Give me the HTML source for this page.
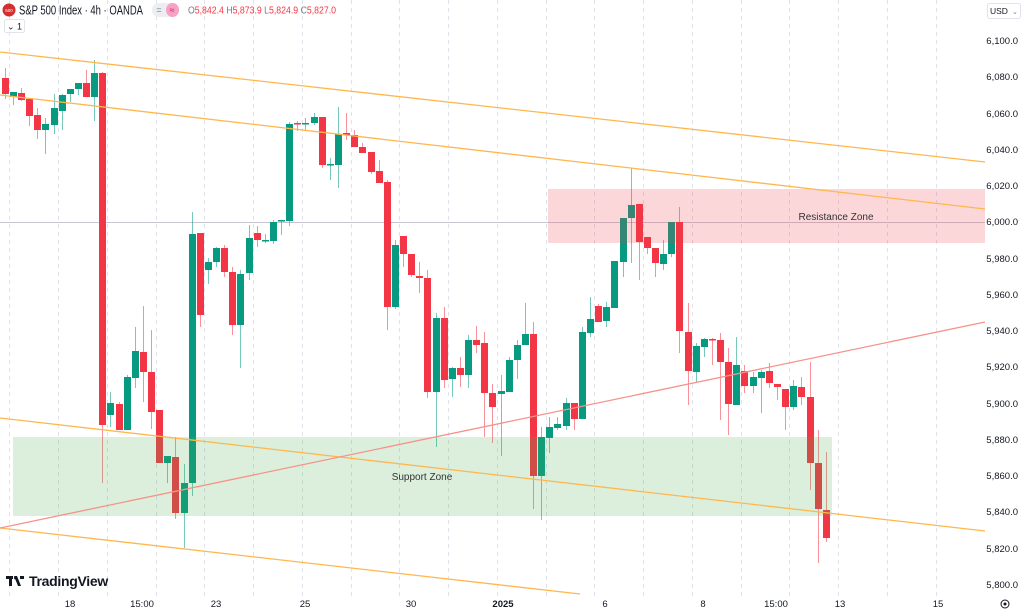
<!DOCTYPE html>
<html><head><meta charset="utf-8"><style>
html,body{margin:0;padding:0;background:#fff;width:1024px;height:612px;overflow:hidden;font-family:"Liberation Sans",sans-serif}
</style></head><body>
<svg width="1024" height="612" viewBox="0 0 1024 612" xmlns="http://www.w3.org/2000/svg" font-family="Liberation Sans, sans-serif">
<rect width="1024" height="612" fill="#fff"/>
<!-- grid -->
<g stroke="#e0e3eb" stroke-width="1" stroke-dasharray="4,4">
<path d="M9.5 0V596M58.5 0V596M107.5 0V596M156.5 0V596M204.5 0V596M253.5 0V596M302.5 0V596M351.5 0V596M399.5 0V596M448.5 0V596M497.5 0V596M546.5 0V596M594.5 0V596M643.5 0V596M692.5 0V596M741.5 0V596M789.5 0V596M838.5 0V596M887.5 0V596M936.5 0V596"/>
</g>
<line x1="0" y1="222.5" x2="985" y2="222.5" stroke="#c8c6d4" stroke-width="1"/>
<!-- wicks -->
<g stroke="#f23645" stroke-opacity="0.55" stroke-width="1" fill="none">
<path d="M5.5 68V99M21.5 88V101M29.5 99V126M37.5 108V139M86.5 70V97M102.5 72V483M119.5 402V430M143.5 306V402M151.5 330V429M159.5 410V463M175.5 437V519M200.5 233V327M224.5 245V277M232.5 267V335M257.5 226V247M297.5 121V131M322.5 117V168M346.5 113V140M354.5 130V147M362.5 143V153M371.5 152V174M379.5 160V183M387.5 180V330M403.5 236V267M411.5 254V277M419.5 262V293M427.5 270V398M444.5 307V388M460.5 357V387M476.5 326V353M484.5 332V437M492.5 384V443M533.5 322V509M574.5 403V430M598.5 304V322M639.5 204V280M647.5 237V254M655.5 248V277M679.5 207V353M688.5 303V405M712.5 338V365M720.5 333V420M728.5 348V435M744.5 365V393M769.5 363V388M777.5 384V400M785.5 389V430M801.5 377V405M810.5 362V490M818.5 430V563M826.5 452V542"/>
</g>
<g stroke="#089981" stroke-opacity="0.55" stroke-width="1" fill="none">
<path d="M13.5 92V105M45.5 118V154M54.5 94V134M62.5 94V130M70.5 89V102M78.5 83V95M94.5 60V121M110.5 392V427M127.5 375V430M135.5 327V388M167.5 456V483M184.5 464V548M192.5 212V496M208.5 258V284M216.5 247V267M240.5 270V368M249.5 225V280M265.5 234V243M273.5 220V244M281.5 220V235M289.5 122V226M305.5 118V131M314.5 113V125M330.5 158V180M338.5 107V188M395.5 240V309M436.5 313V447M452.5 367V397M468.5 335V388M501.5 375V456M509.5 357V392M517.5 340V379M525.5 303V345M541.5 427V520M549.5 417V453M557.5 417V430M566.5 398V430M582.5 327V419M590.5 297V337M606.5 302V327M614.5 261V308M623.5 218V277M631.5 168V263M663.5 240V270M671.5 222V257M696.5 343V382M704.5 338V357M736.5 337V405M753.5 372V393M761.5 370V413M793.5 380V410"/>
</g>
<!-- bodies -->
<g fill="#f23645">
<rect x="2" y="78" width="7" height="16"/><rect x="18" y="93" width="7" height="7"/><rect x="26" y="99" width="7" height="17"/><rect x="34" y="115" width="7" height="15"/><rect x="83" y="83" width="7" height="14"/><rect x="99" y="73" width="7" height="352"/><rect x="116" y="404" width="7" height="26"/><rect x="140" y="352" width="7" height="20"/><rect x="148" y="372" width="7" height="40"/><rect x="156" y="410" width="7" height="53"/><rect x="172" y="457" width="7" height="56"/><rect x="197" y="233" width="7" height="82"/><rect x="221" y="248" width="7" height="24"/><rect x="229" y="272" width="7" height="53"/><rect x="254" y="233" width="7" height="7"/><rect x="294" y="123" width="7" height="1.5"/><rect x="319" y="117" width="7" height="48"/><rect x="343" y="133" width="7" height="2"/><rect x="351" y="135" width="7" height="12"/><rect x="359" y="147" width="7" height="6"/><rect x="368" y="152" width="7" height="20"/><rect x="376" y="171" width="7" height="12"/><rect x="384" y="182" width="7" height="125"/><rect x="400" y="236" width="7" height="18"/><rect x="408" y="254" width="7" height="21"/><rect x="416" y="276" width="7" height="2"/><rect x="424" y="278" width="7" height="114"/><rect x="441" y="318" width="7" height="62"/><rect x="457" y="368" width="7" height="7"/><rect x="473" y="340" width="7" height="5"/><rect x="481" y="343" width="7" height="50"/><rect x="489" y="393" width="7" height="14"/><rect x="530" y="334" width="7" height="142"/><rect x="571" y="403" width="7" height="16"/><rect x="595" y="306" width="7" height="16"/><rect x="636" y="204" width="7" height="38"/><rect x="644" y="237" width="7" height="11"/><rect x="652" y="248" width="7" height="15"/><rect x="676" y="222" width="7" height="109"/><rect x="685" y="332" width="7" height="39"/><rect x="709" y="339" width="7" height="1.5"/><rect x="717" y="340" width="7" height="22"/><rect x="725" y="362" width="7" height="42"/><rect x="741" y="371" width="7" height="15"/><rect x="766" y="371" width="7" height="12"/><rect x="774" y="384" width="7" height="3"/><rect x="782" y="389" width="7" height="18"/><rect x="798" y="387" width="7" height="10"/><rect x="807" y="397" width="7" height="66"/><rect x="815" y="463" width="7" height="46"/><rect x="823" y="510" width="7" height="28"/>
</g>
<g fill="#089981">
<rect x="10" y="92" width="7" height="5"/><rect x="42" y="124" width="7" height="6"/><rect x="51" y="108" width="7" height="17"/><rect x="59" y="95" width="7" height="16"/><rect x="67" y="89" width="7" height="5"/><rect x="75" y="83" width="7" height="6"/><rect x="91" y="73" width="7" height="24"/><rect x="107" y="403" width="7" height="12"/><rect x="124" y="377" width="7" height="53"/><rect x="132" y="351" width="7" height="27"/><rect x="164" y="456" width="7" height="7"/><rect x="181" y="483" width="7" height="30"/><rect x="189" y="234" width="7" height="249"/><rect x="205" y="262" width="7" height="8"/><rect x="213" y="248" width="7" height="14"/><rect x="237" y="274" width="7" height="51"/><rect x="246" y="238" width="7" height="35"/><rect x="262" y="240" width="7" height="1.5"/><rect x="270" y="222" width="7" height="19"/><rect x="278" y="220" width="7" height="1.5"/><rect x="286" y="124" width="7" height="97"/><rect x="302" y="123" width="7" height="1.5"/><rect x="311" y="117" width="7" height="6"/><rect x="327" y="164" width="7" height="1.5"/><rect x="335" y="134" width="7" height="31"/><rect x="392" y="245" width="7" height="62"/><rect x="433" y="318" width="7" height="74"/><rect x="449" y="368" width="7" height="11"/><rect x="465" y="340" width="7" height="35"/><rect x="498" y="391" width="7" height="3"/><rect x="506" y="360" width="7" height="32"/><rect x="514" y="345" width="7" height="15"/><rect x="522" y="334" width="7" height="11"/><rect x="538" y="437" width="7" height="39"/><rect x="546" y="427" width="7" height="11"/><rect x="554" y="424" width="7" height="4"/><rect x="563" y="403" width="7" height="23"/><rect x="579" y="332" width="7" height="87"/><rect x="587" y="319" width="7" height="14"/><rect x="603" y="307" width="7" height="14"/><rect x="611" y="261" width="7" height="47"/><rect x="620" y="218" width="7" height="44"/><rect x="628" y="205" width="7" height="13"/><rect x="660" y="254" width="7" height="10"/><rect x="668" y="222" width="7" height="32"/><rect x="693" y="346" width="7" height="26"/><rect x="701" y="339" width="7" height="8"/><rect x="733" y="365" width="7" height="40"/><rect x="750" y="377" width="7" height="9"/><rect x="758" y="372" width="7" height="6"/><rect x="790" y="386" width="7" height="21"/>
</g>
<!-- zones -->
<rect x="13" y="437" width="819" height="79" fill="rgba(76,175,80,0.2)"/>
<rect x="548" y="189" width="437" height="54" fill="rgba(242,54,69,0.2)"/>
<text x="422" y="480" font-size="10" fill="#333" text-anchor="middle">Support Zone</text>
<text x="836" y="220" font-size="10" fill="#333" text-anchor="middle">Resistance Zone</text>
<!-- lines -->
<g stroke="#ffb74d" stroke-width="1.3" fill="none">
<line x1="0" y1="52" x2="985" y2="162"/>
<line x1="0" y1="95" x2="985" y2="209"/>
<line x1="0" y1="418" x2="985" y2="531"/>
<line x1="0" y1="528" x2="580" y2="594"/>
</g>
<line x1="0" y1="528" x2="985" y2="322" stroke="#f7928a" stroke-width="1.3"/>
<!-- header -->
<circle cx="9" cy="10" r="6.5" fill="#d32f2f"/>
<text x="9" y="12" font-size="4.5" fill="#fff" text-anchor="middle">500</text>
<text x="19" y="14.5" font-size="12.5" fill="#131722" textLength="124" lengthAdjust="spacingAndGlyphs">S&amp;P 500 Index · 4h · OANDA</text>
<rect x="152" y="3" width="27" height="14" rx="7" fill="#eceef2"/>
<rect x="166" y="3" width="13" height="14" rx="7" fill="#f7a1c4"/>
<text x="159" y="13" font-size="9" fill="#787b86" text-anchor="middle">=</text>
<text x="172" y="13" font-size="9" fill="#d81b60" text-anchor="middle">≈</text>
<text x="188" y="13.5" font-size="10" textLength="148" lengthAdjust="spacingAndGlyphs"><tspan fill="#787b86">O</tspan><tspan fill="#f23645">5,842.4 </tspan><tspan fill="#787b86">H</tspan><tspan fill="#f23645">5,873.9 </tspan><tspan fill="#787b86">L</tspan><tspan fill="#f23645">5,824.9 </tspan><tspan fill="#787b86">C</tspan><tspan fill="#f23645">5,827.0</tspan></text>
<rect x="4.5" y="19.5" width="20" height="13" rx="2" fill="#fff" stroke="#e0e3eb"/>
<text x="14.5" y="29.5" font-size="9" fill="#131722" text-anchor="middle">⌄ 1</text>
<!-- price axis -->
<g font-size="9.5" fill="#131722" text-anchor="end">
<text x="1018" y="44">6,100.0</text><text x="1018" y="80">6,080.0</text><text x="1018" y="117">6,060.0</text><text x="1018" y="153">6,040.0</text><text x="1018" y="189">6,020.0</text><text x="1018" y="225">6,000.0</text><text x="1018" y="262">5,980.0</text><text x="1018" y="298">5,960.0</text><text x="1018" y="334">5,940.0</text><text x="1018" y="370">5,920.0</text><text x="1018" y="407">5,900.0</text><text x="1018" y="443">5,880.0</text><text x="1018" y="479">5,860.0</text><text x="1018" y="515">5,840.0</text><text x="1018" y="552">5,820.0</text><text x="1018" y="588">5,800.0</text>
</g>
<rect x="987.5" y="3.5" width="33" height="15" rx="2" fill="#fff" stroke="#e0e3eb"/>
<text x="990" y="14" font-size="8.5" fill="#131722">USD</text>
<text x="1012" y="14" font-size="7" fill="#787b86">⌄</text>
<!-- time axis -->
<g font-size="9.5" fill="#131722" text-anchor="middle">
<text x="70" y="607">18</text><text x="142" y="607">15:00</text><text x="216" y="607">23</text><text x="305" y="607">25</text><text x="411" y="607">30</text><text x="503" y="607" font-weight="bold">2025</text><text x="605" y="607">6</text><text x="703" y="607">8</text><text x="776" y="607">15:00</text><text x="840" y="607">13</text><text x="938" y="607">15</text>
</g>
<circle cx="1005" cy="604" r="4" fill="none" stroke="#131722" stroke-width="1"/>
<circle cx="1005" cy="604" r="1.5" fill="#131722"/>
<!-- logo -->
<g fill="#131722">
<rect x="6" y="576" width="7" height="3"/><rect x="9" y="576" width="3" height="10"/>
<polygon points="14,576 17,576 21,586 18,586"/><circle cx="15.5" cy="578" r="1.5"/>
<rect x="20" y="576" width="4" height="3"/>
</g>
<text x="29" y="586" font-size="14" font-weight="bold" fill="#131722" letter-spacing="-0.3">TradingView</text>
</svg>
</body></html>
